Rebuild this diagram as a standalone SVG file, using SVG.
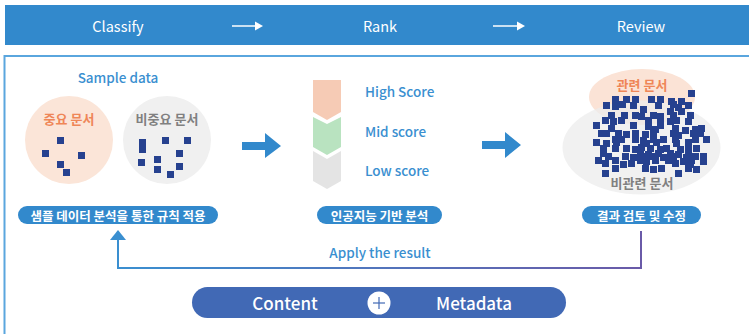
<svg xmlns="http://www.w3.org/2000/svg" width="749" height="334" viewBox="0 0 749 334">
<defs>
<style>
text{font-family:"Noto Sans CJK KR","Noto Sans",sans-serif;}
.hdr{fill:#fff;font-size:14.5px;text-anchor:middle;dominant-baseline:central;}
.blue{fill:#3a8fd0;font-size:13.5px;font-weight:500;dominant-baseline:central;}
.pilltxt{fill:#fff;font-size:12.5px;font-weight:700;text-anchor:middle;dominant-baseline:central;}
.pill{fill:#3289cc;}
.or{fill:#ef8657;font-size:13px;font-weight:700;text-anchor:middle;dominant-baseline:central;}
.gr{fill:#808080;font-size:13px;font-weight:700;text-anchor:middle;dominant-baseline:central;}
.sq rect{fill:#26418f;width:7px;height:7px;}
.big{fill:#fff;font-size:17px;font-weight:500;text-anchor:middle;dominant-baseline:central;}
</style>
<linearGradient id="fb" x1="0" y1="0" x2="1" y2="0">
<stop offset="0" stop-color="#3a8fd0"/>
<stop offset="1" stop-color="#6a5aa8"/>
</linearGradient>
</defs>
<rect x="5" y="5" width="750" height="40" fill="#3289cc"/>
<rect x="4.5" y="56" width="760" height="300" fill="none" stroke="#5aa6de" stroke-width="2"/>
<g id="header">
<text class="hdr" x="118" y="25">Classify</text>
<text class="hdr" x="380" y="25">Rank</text>
<text class="hdr" x="641" y="25">Review</text>
<line x1="232" y1="26" x2="256" y2="26" stroke="#fff" stroke-width="1.5"/>
<polygon points="255,21.5 263,26 255,30.5" fill="#fff"/>
<line x1="493" y1="26" x2="518" y2="26" stroke="#fff" stroke-width="1.5"/>
<polygon points="517,21.5 525,26 517,30.5" fill="#fff"/>
</g>
<g id="sample">
<text class="blue" x="118" y="77" text-anchor="middle" font-size="14.5">Sample data</text>
<circle cx="69" cy="140" r="44" fill="#fbe5d8"/>
<circle cx="167" cy="140" r="44" fill="#f0f0f0"/>
<text class="or" x="69" y="118">중요 문서</text>
<text class="gr" x="167" y="118">비중요 문서</text>
<g class="sq">
<rect x="57" y="137"/><rect x="42" y="150"/><rect x="78" y="152"/><rect x="57" y="161"/><rect x="63" y="169"/>
<rect x="139" y="139" style="height:14px"/><rect x="162" y="137"/><rect x="184" y="137"/><rect x="176" y="150"/><rect x="138" y="159"/><rect x="154" y="156"/><rect x="154" y="166"/><rect x="176" y="163"/><rect x="167" y="171"/>
</g>
<rect class="pill" x="18" y="206" width="200" height="18" rx="9"/>
<text class="pilltxt" x="118" y="215">샘플 데이터 분석을 통한 규칙 적용</text>
</g>
<g id="rank">
<path d="M313,80 H341 V112 L327,120 L313,112 Z" fill="#f6cbb5"/>
<path d="M313,117 L327,124 L341,117 V147 L327,155 L313,147 Z" fill="#b9e3c0"/>
<path d="M313,151 L327,159 L341,151 V181 L327,189 L313,181 Z" fill="#e4e4e4"/>
<text class="blue" x="365" y="91">High Score</text>
<text class="blue" x="365" y="131">Mid score</text>
<text class="blue" x="365" y="170">Low score</text>
<rect class="pill" x="317" y="206" width="125" height="18" rx="9"/>
<text class="pilltxt" x="379.5" y="215">인공지능 기반 분석</text>
</g>
<g id="review">
<ellipse cx="642" cy="97" rx="53" ry="28" fill="#fbe3d6"/>
<ellipse cx="641.5" cy="147.5" rx="79" ry="47" fill="#ececec" fill-opacity="0.75"/>
<text class="or" x="642" y="84">관련 문서</text>
<g class="sq">
<rect x="688" y="90"/>
<rect x="612" y="96"/><rect x="623" y="96"/><rect x="632" y="96"/><rect x="648" y="96"/><rect x="657" y="96"/><rect x="668" y="98"/><rect x="678" y="98"/>
<rect x="603" y="102"/><rect x="612" y="103"/><rect x="619" y="101"/><rect x="630" y="102"/><rect x="655" y="102"/><rect x="670" y="101"/><rect x="675" y="104"/><rect x="685" y="102"/>
<rect x="640" y="106"/><rect x="667" y="108"/><rect x="678" y="108"/>
<rect x="608" y="112"/><rect x="621" y="112"/><rect x="632" y="112"/><rect x="638" y="113"/><rect x="650" y="112"/><rect x="657" y="113"/><rect x="670" y="112"/><rect x="687" y="112"/>
<rect x="602" y="117"/><rect x="610" y="118"/><rect x="618" y="117"/><rect x="645" y="117"/><rect x="657" y="117"/><rect x="667" y="118"/><rect x="673" y="117"/><rect x="685" y="118"/>
<rect x="593" y="122"/><rect x="630" y="122"/><rect x="645" y="123"/><rect x="657" y="122"/>
<rect x="608" y="125"/><rect x="652" y="126"/><rect x="672" y="125"/><rect x="682" y="127"/><rect x="692" y="126"/><rect x="698" y="125"/>
<rect x="598" y="130"/><rect x="603" y="130"/><rect x="615" y="130"/><rect x="623" y="131"/><rect x="632" y="130"/><rect x="642" y="131"/><rect x="650" y="130"/><rect x="670" y="130"/><rect x="675" y="132"/><rect x="690" y="130"/><rect x="697" y="130"/>
<rect x="612" y="136"/><rect x="618" y="136"/><rect x="632" y="136"/><rect x="640" y="137"/><rect x="650" y="136"/><rect x="660" y="136"/><rect x="672" y="136"/><rect x="692" y="136"/><rect x="703" y="136"/>
<rect x="593" y="139"/><rect x="603" y="140"/><rect x="613" y="139"/><rect x="643" y="140"/><rect x="653" y="139"/><rect x="673" y="140"/><rect x="685" y="139"/>
<rect x="600" y="145"/><rect x="612" y="145"/><rect x="623" y="145"/><rect x="632" y="146"/><rect x="638" y="144"/><rect x="647" y="145"/><rect x="657" y="146"/><rect x="663" y="145"/><rect x="677" y="146"/><rect x="685" y="145"/><rect x="693" y="145"/>
<rect x="600" y="150"/><rect x="637" y="150"/><rect x="645" y="151"/><rect x="655" y="150"/><rect x="667" y="150"/><rect x="675" y="151"/><rect x="685" y="150"/>
<rect x="605" y="153"/><rect x="622" y="153"/><rect x="630" y="154"/><rect x="638" y="153"/><rect x="648" y="153"/><rect x="660" y="154"/><rect x="670" y="153"/><rect x="683" y="154"/><rect x="692" y="153"/><rect x="700" y="153"/>
<rect x="595" y="157"/><rect x="612" y="157"/><rect x="637" y="157"/><rect x="643" y="158"/><rect x="652" y="157"/><rect x="665" y="157"/><rect x="680" y="158"/><rect x="688" y="157"/><rect x="700" y="158"/>
<rect x="602" y="160"/><rect x="620" y="161"/><rect x="628" y="160"/><rect x="672" y="160"/><rect x="687" y="161"/>
<rect x="612" y="165"/><rect x="642" y="165"/><rect x="650" y="166"/><rect x="658" y="165"/><rect x="685" y="165"/><rect x="693" y="166"/>
<rect x="602" y="170"/><rect x="675" y="170"/>
</g>
<text class="gr" x="642" y="182">비관련 문서</text>
<rect class="pill" x="582" y="206" width="119" height="18" rx="9"/>
<text class="pilltxt" x="641.5" y="215">결과 검토 및 수정</text>
</g>
<g id="connectors">
<polygon points="242,142 265,142 265,133 281,146 265,158 265,150 242,150" fill="#3289cc"/>
<polygon points="482,141 505,141 505,132 521,145 505,158 505,149 482,149" fill="#3289cc"/>
<polyline points="641,231 641,268 118,268 118,238" fill="none" stroke="url(#fb)" stroke-width="2"/>
<polygon points="110,240 118,230 126,240" fill="#3a8fd0"/>
<text class="blue" x="380" y="252" text-anchor="middle" font-size="13">Apply the result</text>
</g>
<g id="data">
<rect x="192" y="287" width="374" height="31" rx="15.5" fill="#4169b5"/>
<text class="big" x="285" y="302">Content</text>
<text class="big" x="474" y="302">Metadata</text>
<circle cx="379" cy="303" r="11.5" fill="#fff"/>
<line x1="373" y1="303" x2="385" y2="303" stroke="#4169b5" stroke-width="1.2"/>
<line x1="379" y1="297" x2="379" y2="309" stroke="#4169b5" stroke-width="1.2"/>
</g>
</svg>
